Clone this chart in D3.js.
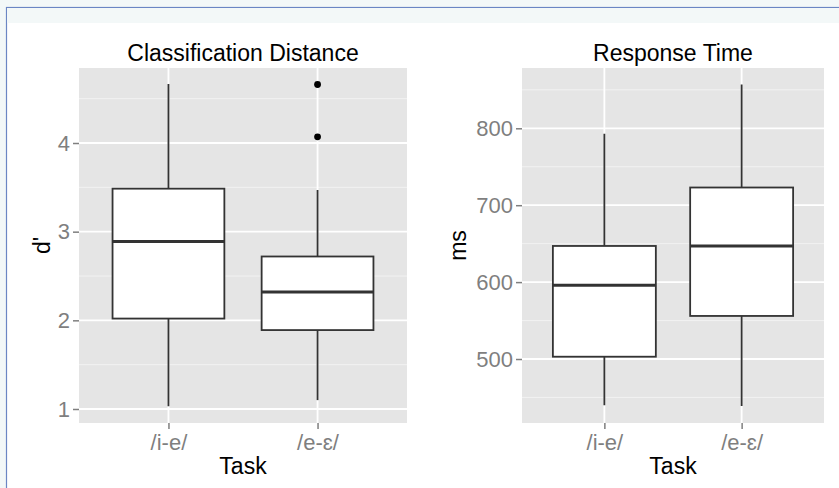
<!DOCTYPE html>
<html>
<head>
<meta charset="utf-8">
<script src="https://cdn.jsdelivr.net/npm/d3@7"></script>
<style>
  body { margin: 0; background: #f3f8f8; }
  svg { display: block; font-family: "Liberation Sans", Arial, sans-serif; }
</style>
</head>
<body>
<div id="chart"></div>
<script>
// data
var tasks = ["/i-e/", "/e-\u025b/"];

// [lower whisker, q1, median, q3, upper whisker]
var dprimeStats = [[1.03, 2.02, 2.89, 3.485, 4.665], [1.10, 1.89, 2.32, 2.72, 3.47]];
var dprimeOutliers = [[], [4.07, 4.66]];
var dprimeTicks = [1, 2, 3, 4];
var dprimeMinor = [1.5, 2.5, 3.5, 4.5];

var rtStats = [[440, 503, 596, 647, 793], [439, 556, 647, 723, 857]];
var rtOutliers = [[], []];
var rtTicks = [500, 600, 700, 800];
var rtMinor = [450, 550, 650, 750, 850];

var W = 839, H = 488;

var svg = d3.select("#chart").append("svg")
    .attr("width", W)
    .attr("height", H);

// page frame
svg.append("rect").attr("x", 6.5).attr("y", 7.5).attr("width", W).attr("height", H)
    .attr("fill", "#ffffff").attr("stroke", "#6b86c4").attr("stroke-width", 1.2);
svg.append("rect").attr("x", 7).attr("y", 8).attr("width", W).attr("height", 15)
    .attr("fill", "#f3f8f8");

function panel(opt) {
  var g = svg.append("g");
  var x = d3.scalePoint().domain(tasks).range([opt.x0, opt.x1]).padding(0.6);
  var step = x.step();
  var y = d3.scaleLinear().domain(opt.domain).range([opt.y1, opt.y0]);

  g.append("rect")
      .attr("x", opt.x0).attr("y", opt.y0)
      .attr("width", opt.x1 - opt.x0).attr("height", opt.y1 - opt.y0)
      .attr("fill", "#e5e5e5");

  // grid
  g.selectAll(".minor").data(opt.minor).enter().append("line")
      .attr("x1", opt.x0).attr("x2", opt.x1)
      .attr("y1", function(d) { return y(d); }).attr("y2", function(d) { return y(d); })
      .attr("stroke", "#f2f2f2").attr("stroke-width", 1);
  g.selectAll(".major").data(opt.ticks).enter().append("line")
      .attr("x1", opt.x0).attr("x2", opt.x1)
      .attr("y1", function(d) { return y(d); }).attr("y2", function(d) { return y(d); })
      .attr("stroke", "#ffffff").attr("stroke-width", 1.8);
  g.selectAll(".vmajor").data(tasks).enter().append("line")
      .attr("x1", function(d) { return x(d); }).attr("x2", function(d) { return x(d); })
      .attr("y1", opt.y0).attr("y2", opt.y1)
      .attr("stroke", "#ffffff").attr("stroke-width", 1.8);

  // boxes
  var bw = step * 0.75;
  var box = g.selectAll(".box").data(opt.stats).enter().append("g");
  box.append("line")
      .attr("x1", function(d, i) { return x(tasks[i]); }).attr("x2", function(d, i) { return x(tasks[i]); })
      .attr("y1", function(d) { return y(d[0]); }).attr("y2", function(d) { return y(d[4]); })
      .attr("stroke", "#333333").attr("stroke-width", 1.8);
  box.append("rect")
      .attr("x", function(d, i) { return x(tasks[i]) - bw / 2; })
      .attr("y", function(d) { return y(d[3]); })
      .attr("width", bw)
      .attr("height", function(d) { return y(d[1]) - y(d[3]); })
      .attr("fill", "#ffffff").attr("stroke", "#333333").attr("stroke-width", 1.8);
  box.append("line")
      .attr("x1", function(d, i) { return x(tasks[i]) - bw / 2; })
      .attr("x2", function(d, i) { return x(tasks[i]) + bw / 2; })
      .attr("y1", function(d) { return y(d[2]); }).attr("y2", function(d) { return y(d[2]); })
      .attr("stroke", "#333333").attr("stroke-width", 3);

  opt.outliers.forEach(function(arr, i) {
    g.selectAll(null).data(arr).enter().append("circle")
        .attr("cx", x(tasks[i])).attr("cy", function(d) { return y(d); })
        .attr("r", 3.4).attr("fill", "#000000");
  });

  // axes
  var yAxis = g.append("g")
      .attr("transform", "translate(" + opt.x0 + ",0)")
      .call(d3.axisLeft(y).tickValues(opt.ticks).tickFormat(d3.format("d")).tickSize(6).tickPadding(3));
  var xAxis = g.append("g")
      .attr("transform", "translate(0," + opt.y1 + ")")
      .call(d3.axisBottom(x).tickSize(6).tickPadding(3));
  [yAxis, xAxis].forEach(function(a) {
    a.select(".domain").remove();
    a.selectAll(".tick line").attr("stroke", "#7f7f7f").attr("stroke-width", 1.5);
    a.selectAll(".tick text").attr("fill", "#7f7f7f").style("font-size", opt.tickSize + "px");
  });
  xAxis.selectAll(".tick text").attr("dy", "0.8em");

  g.append("text")
      .attr("x", (opt.x0 + opt.x1) / 2).attr("y", opt.y0 - 7)
      .attr("text-anchor", "middle").style("font-size", "23px").attr("fill", "#000")
      .text(opt.title);
  g.append("text")
      .attr("x", (opt.x0 + opt.x1) / 2).attr("y", 474)
      .attr("text-anchor", "middle").style("font-size", "23px").attr("fill", "#000")
      .text("Task");
  g.append("text")
      .attr("transform", "translate(" + opt.ylabX + "," + ((opt.y0 + opt.y1) / 2) + ") rotate(-90)")
      .attr("text-anchor", "middle").style("font-size", "23px").attr("fill", "#000")
      .text(opt.ylab);
}

panel({
  x0: 79, x1: 407, y0: 68, y1: 423,
  domain: [0.842, 4.846],
  stats: dprimeStats, outliers: dprimeOutliers,
  ticks: dprimeTicks, minor: dprimeMinor,
  title: "Classification Distance", ylab: "d'", ylabX: 50, tickSize: 22
});

panel({
  x0: 522, x1: 824, y0: 68, y1: 423,
  domain: [416.8, 878.4],
  stats: rtStats, outliers: rtOutliers,
  ticks: rtTicks, minor: rtMinor,
  title: "Response Time", ylab: "ms", ylabX: 466, tickSize: 22
});
</script>
</body>
</html>
